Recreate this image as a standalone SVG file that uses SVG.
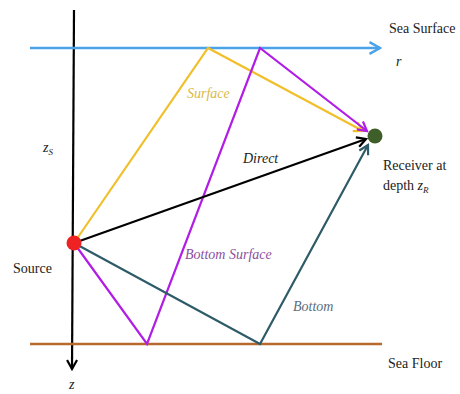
<svg xmlns="http://www.w3.org/2000/svg" width="460" height="394" viewBox="0 0 460 394">
<style>
.lbl{font-family:"Liberation Serif","DejaVu Serif","Times New Roman",serif;font-size:14px;fill:#222}
.it{font-style:italic}
.ray{fill:none;stroke-width:2.2;stroke-linejoin:miter}
</style>
<defs>
<marker id="aK" viewBox="0 0 12 12" refX="10" refY="6" markerWidth="12" markerHeight="12" markerUnits="userSpaceOnUse" orient="auto"><path d="M1,1 L10,6 L1,11" fill="none" stroke="#000" stroke-width="2.2"/></marker>
<marker id="aB" viewBox="0 0 12 12" refX="10" refY="6" markerWidth="14" markerHeight="14" markerUnits="userSpaceOnUse" orient="auto"><path d="M1,1 L10,6 L1,11" fill="none" stroke="#4aa3e8" stroke-width="2.2"/></marker>
<marker id="aY" viewBox="0 0 12 12" refX="10" refY="6" markerWidth="12" markerHeight="12" markerUnits="userSpaceOnUse" orient="auto"><path d="M1,1 L10,6 L1,11" fill="none" stroke="#f0bf2a" stroke-width="2.2"/></marker>
<marker id="aM" viewBox="0 0 12 12" refX="10" refY="6" markerWidth="12" markerHeight="12" markerUnits="userSpaceOnUse" orient="auto"><path d="M1,1 L10,6 L1,11" fill="none" stroke="#b11ce6" stroke-width="2.2"/></marker>
<marker id="aT" viewBox="0 0 12 12" refX="10" refY="6" markerWidth="12" markerHeight="12" markerUnits="userSpaceOnUse" orient="auto"><path d="M1,1 L10,6 L1,11" fill="none" stroke="#2e5b68" stroke-width="2.2"/></marker>
</defs>
<rect width="460" height="394" fill="#fff"/>
<g id="connectors">
<line id="z-axis" x1="74" y1="10" x2="72" y2="369" stroke="#000" stroke-width="2.2" marker-end="url(#aK)"/>
<line id="sea-surface-line" x1="30" y1="48" x2="380" y2="48" stroke="#4aa3e8" stroke-width="2.4" marker-end="url(#aB)"/>
<line id="sea-floor-line" x1="30" y1="344" x2="382" y2="344" stroke="#b8692e" stroke-width="2.4"/>
<polyline id="ray-surface" class="ray" points="74,243 208,48 363,131" stroke="#f0bf2a" marker-end="url(#aY)"/>
<polyline id="ray-bottom-surface" class="ray" points="74,243 147,344 260,48 367,131" stroke="#b11ce6" marker-end="url(#aM)"/>
<line id="ray-direct" class="ray" x1="74" y1="243" x2="366" y2="139" stroke="#000" marker-end="url(#aK)"/>
<polyline id="ray-bottom" class="ray" points="74,243 260,344 368,145" stroke="#2e5b68" marker-end="url(#aT)"/>
</g>
<g id="source"><circle cx="74" cy="243" r="7.5" fill="#ee2222"/><text class="lbl" x="13" y="273">Source</text></g>
<g id="receiver"><circle cx="375" cy="136" r="7.5" fill="#3f5f2a"/><text class="lbl" x="383" y="170">Receiver at</text><text class="lbl" x="383" y="190">depth <tspan class="it">z</tspan><tspan class="it" font-size="9" dy="3">R</tspan></text></g>
<g id="labels">
<text class="lbl" x="389" y="33">Sea Surface</text>
<text class="lbl it" x="396" y="66">r</text>
<text class="lbl" x="388" y="368">Sea Floor</text>
<text class="lbl it" x="43" y="152">z<tspan font-size="9" dy="3">S</tspan></text>
<text class="lbl it" x="69" y="389">z</text>
<text class="lbl it" x="187" y="98" style="fill:#d9b94a">Surface</text>
<text class="lbl it" x="243" y="163">Direct</text>
<text class="lbl it" x="185" y="259" style="fill:#8b4fa0">Bottom Surface</text>
<text class="lbl it" x="293" y="311" style="fill:#5b6e7c">Bottom</text>
</g>
</svg>
